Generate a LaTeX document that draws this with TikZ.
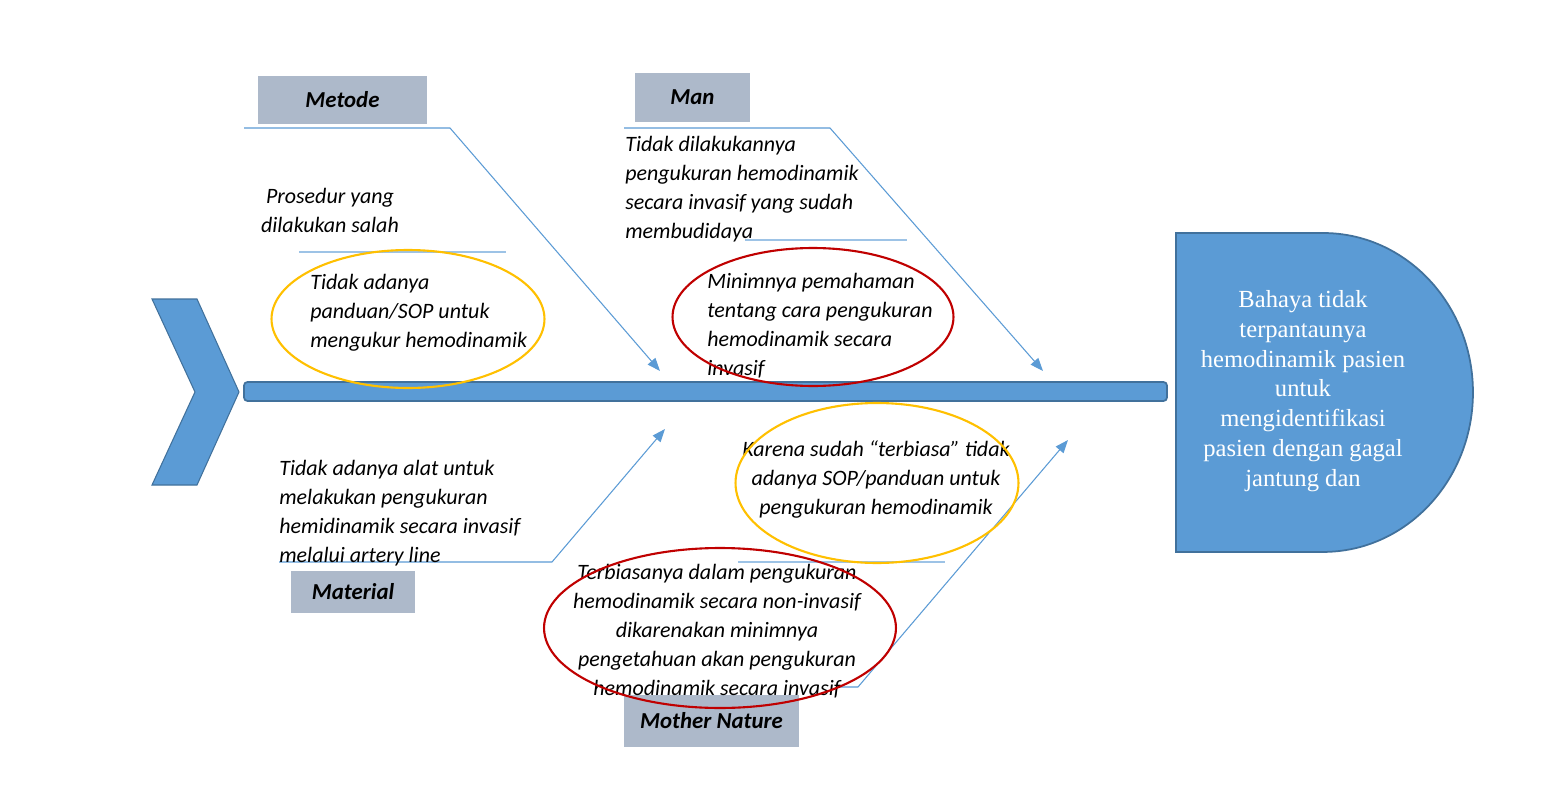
\documentclass[tikz,border=0pt]{standalone}
\usepackage{fontspec}
\setmainfont{Carlito}
\newfontfamily\headfont{Liberation Serif}
\usetikzlibrary{arrows.meta,shapes.geometric}
\definecolor{FishClr}{HTML}{5B9BD5}
\definecolor{EdgeClr}{HTML}{41719C}
\definecolor{LabelClr}{HTML}{ADB9CA}
\definecolor{SubClr}{HTML}{9DC3E6}
\definecolor{GoldClr}{HTML}{FFC000}
\definecolor{RedClr}{HTML}{C00000}

\tikzset{
  labelbox/.style={fill=LabelClr,inner sep=0pt,font=\fontsize{13}{15}\selectfont\bfseries\itshape},
  cause/.style={inner sep=0pt,font=\fontsize{12.5}{16.4}\selectfont\itshape},
  bone/.style={FishClr,line width=0.6pt,-{Triangle[length=2.6mm,width=2mm]}},
  subline/.style={SubClr,line width=0.9pt},
  ring/.style={ellipse,draw,line width=1.2pt,inner sep=0pt},
}

\begin{document}
\begin{tikzpicture}[x=0.02cm,y=-0.02cm]
\path[use as bounding box,fill=white] (0,0) rectangle (1543,791);

% tail and spine
\draw[fill=FishClr,draw=EdgeClr,line width=0.6pt]
  (152,299) -- (197,299) -- (239,392) -- (197,485) -- (152,485) -- (195,392) -- cycle;
\draw[fill=FishClr,draw=EdgeClr,line width=1pt,rounded corners=2pt]
  (244,382) rectangle (1167,401);

% head
\draw[fill=FishClr,draw=EdgeClr,line width=1pt]
  (1176,233) -- (1323,233) arc[start angle=90,end angle=-90,x radius=3cm,y radius=3.19cm]
  -- (1176,552) -- cycle;
\node[text=white,align=center,anchor=base,font=\headfont\fontsize{14}{16.9}\selectfont] (effect) at (1303,486)
  {Bahaya tidak\\terpantaunya\\hemodinamik pasien\\untuk\\mengidentifikasi\\pasien dengan gagal\\jantung dan};

% category boxes
\node[labelbox,minimum width=3.38cm,minimum height=0.96cm] (metode) at (342.5,100) {Metode};
\node[labelbox,minimum width=2.3cm,minimum height=1cm] (man) at (692.5,97.5) {Man};
\node[labelbox,minimum width=2.48cm,minimum height=0.84cm] (material) at (353,592) {Material};
\node[labelbox,minimum width=3.5cm,minimum height=1.04cm] (nature) at (711.5,721) {Mother Nature};

% bones
\coordinate (metodeL) at (244,128);
\coordinate (metodeK) at (450,128);
\coordinate (metodeT) at (660,371);
\coordinate (manL) at (624,128);
\coordinate (manK) at (830,128);
\coordinate (manT) at (1043,371);
\coordinate (materialL) at (279,562);
\coordinate (materialK) at (552,562);
\coordinate (materialT) at (665,429);
\coordinate (natureL) at (840,687);
\coordinate (natureK) at (858,687);
\coordinate (natureT) at (1068,440);

\draw[bone] (metodeL) -- (metodeK) -- (metodeT);
\draw[bone] (manL) -- (manK) -- (manT);
\draw[bone] (materialL) -- (materialK) -- (materialT);
\draw[bone] (natureL) -- (natureK) -- (natureT);

\draw[subline] (299,252) -- (506,252);
\draw[subline] (745,240) -- (907,240);
\draw[subline] (738,562) -- (945,562);

% causes (anchored on the last baseline)
\node[cause,align=center,anchor=base] (prosedur) at (330,232) {Prosedur yang\\dilakukan salah};
\node[cause,align=left,anchor=base west] (panduan) at (310,347)
  {Tidak adanya\\panduan/SOP untuk\\mengukur hemodinamik};
\node[cause,align=left,anchor=base west] (budaya) at (625,238)
  {Tidak dilakukannya\\pengukuran hemodinamik\\secara invasif yang sudah\\membudidaya};
\node[cause,align=left,anchor=base west] (paham) at (707,375)
  {Minimnya pemahaman\\tentang cara pengukuran\\hemodinamik secara\\invasif};
\node[cause,align=left,anchor=base west] (alat) at (279,562)
  {Tidak adanya alat untuk\\melakukan pengukuran\\hemidinamik secara invasif\\melalui artery line};
\node[cause,align=center,anchor=base] (terbiasa) at (876,514)
  {Karena sudah “terbiasa” tidak\\adanya SOP/panduan untuk\\pengukuran hemodinamik};
\node[cause,align=center,anchor=base] (noninvasif) at (717,695)
  {Terbiasanya dalam pengukuran\\hemodinamik secara non-invasif\\dikarenakan minimnya\\pengetahuan akan pengukuran\\hemodinamik secara invasif};

% rings
\node[ring,draw=GoldClr,minimum width=5.46cm,minimum height=2.76cm] (ringA) at (408,319) {};
\node[ring,draw=RedClr,minimum width=5.62cm,minimum height=2.76cm] (ringB) at (813,317) {};
\node[ring,draw=GoldClr,minimum width=5.66cm,minimum height=3.2cm] (ringC) at (877,483) {};
\node[ring,draw=RedClr,minimum width=7.04cm,minimum height=3.2cm] (ringD) at (720,628) {};

\end{tikzpicture}
\end{document}
